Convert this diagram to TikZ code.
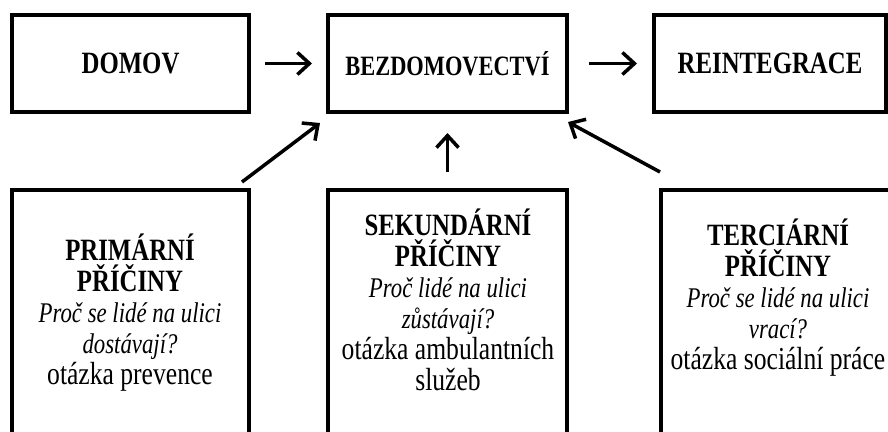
\documentclass[tikz,border=0pt]{standalone}
\usepackage{fontspec}
\setmainfont{Liberation Serif}[FakeStretch=0.8]
\usetikzlibrary{arrows.meta,calc}

\newcommand\causehead{\bfseries\fontsize{31}{31}\selectfont}
\newcommand\causeq{\itshape\fontsize{28.5}{31}\selectfont}
\newcommand\causenote{\fontsize{32}{31}\selectfont}

\begin{document}
\begin{tikzpicture}[x=1pt,y=-1pt,
    box/.style={draw,line width=4pt,outer sep=0pt,inner sep=0pt,minimum height=97pt,
        font=\bfseries\fontsize{31}{31}\selectfont},
    causebox/.style={draw,line width=4pt,outer sep=0pt,minimum height=300pt,anchor=north},
    causetext/.style={align=center,inner sep=0pt,
        font={\lineskiplimit=-50pt\fontsize{31}{31}\selectfont}},
    flow/.style={line width=3.5pt,-{Straight Barb[length=12pt,width=22pt]}}]
    \useasboundingbox[fill=white] (0,0) rectangle (888,431);
    \clip (0,0) rectangle (888,431);

    % top row
    \node[box,minimum width=237pt] (domov) at (130.5,63.5) {DOMOV};
    \node[box,minimum width=239pt,font=\bfseries\fontsize{28}{28}\selectfont] (bez) at (447.5,63.5) {BEZDOMOVECTVÍ};
    \node[box,minimum width=232pt] (reint) at (770,63.5) {REINTEGRACE};

    % bottom row
    \node[causebox,minimum width=237pt] (prim) at (130.5,190) {};
    \node[causebox,minimum width=239pt] (sek) at (447.5,190) {};
    \node[causebox,minimum width=240pt,anchor=north west] (ter) at (661,190) {};

    \node[causetext] (primtext) at (130,312.5) {{\causehead PRIMÁRNÍ}\\{\causehead PŘÍČINY}\\
        {\causeq Proč se lidé na ulici}\\{\causeq dostávají?}\\{\causenote otázka prevence}};
    \node[causetext] (sektext) at (448,299.5) {{\causehead SEKUNDÁRNÍ}\\{\causehead PŘÍČINY}\\
        {\causeq Proč lidé na ulici}\\{\causeq zůstávají?}\\{\causenote otázka ambulantních}\\{\causenote služeb}};
    \node[causetext] (tertext) at (778,298) {{\causehead TERCIÁRNÍ}\\{\causehead PŘÍČINY}\\
        {\causeq Proč se lidé na ulici}\\{\causeq vrací?}\\{\causenote otázka sociální práce}};

    % arrows
    \draw[flow,shorten <=16pt,shorten >=16pt] (domov) -- (bez);
    \draw[flow,shorten <=22pt,shorten >=17pt] (bez) -- (reint);
    \draw[flow] ($(prim.north east)+(-7,-8)$) -- ($(bez.south west)+(-8,11)$);
    \draw[flow,shorten <=18pt,shorten >=21pt] (sek) -- (bez);
    \draw[flow] ($(ter.north west)+(-1,-18)$) -- ($(bez.south east)+(1,10)$);
\end{tikzpicture}
\end{document}
